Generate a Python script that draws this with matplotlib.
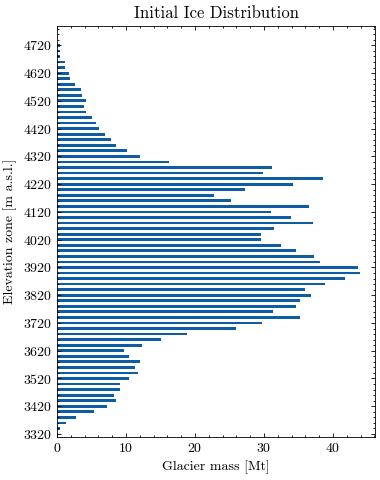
import numpy as np
import matplotlib
matplotlib.use("Agg")
import matplotlib.pyplot as plt
from matplotlib.ticker import MultipleLocator

# elevation zones (m a.s.l.), 20 m bands
elevation = np.arange(3320, 4781, 20)

# glacier mass per zone [Mt], bottom to top
mass = [
    0.1, 0.4, 1.3, 2.7, 5.3, 7.2, 8.6, 8.2, 9.1, 9.1,       # 3320-3500
    10.4, 11.7, 11.3, 12.0, 10.5, 9.7, 12.3, 15.0, 18.8, 25.9,  # 3520-3700
    29.7, 35.2, 31.3, 34.6, 35.2, 36.8, 35.9, 38.9, 41.8, 43.9,  # 3720-3900
    43.6, 38.1, 37.3, 34.7, 32.4, 29.5, 29.5, 31.4, 37.1, 33.9,  # 3920-4100
    31.0, 36.5, 25.2, 22.7, 27.3, 34.2, 38.6, 29.8, 31.1, 16.3,  # 4120-4300
    12.1, 10.2, 8.6, 7.8, 6.9, 6.1, 5.7, 5.1, 4.2, 3.9,       # 4320-4500
    4.2, 3.6, 3.5, 2.6, 1.9, 1.7, 1.2, 1.2, 0.5, 0.4,         # 4520-4700
    0.4, 0.0, 0.0, 0.0,                                       # 4720-4780
]

plt.rcParams["font.family"] = "serif"
plt.rcParams["font.serif"] = ["cmr10"]
plt.rcParams["mathtext.fontset"] = "cm"
plt.rcParams["axes.formatter.use_mathtext"] = True
plt.rcParams["axes.linewidth"] = 0.6
for ax_name in ("xtick", "ytick"):
    plt.rcParams[f"{ax_name}.direction"] = "in"
    plt.rcParams[f"{ax_name}.major.size"] = 3
    plt.rcParams[f"{ax_name}.minor.size"] = 1.5
    plt.rcParams[f"{ax_name}.major.width"] = 0.6
    plt.rcParams[f"{ax_name}.minor.width"] = 0.6
    plt.rcParams[f"{ax_name}.minor.visible"] = True
    plt.rcParams[f"{ax_name}.labelsize"] = 10
plt.rcParams["xtick.top"] = True
plt.rcParams["ytick.right"] = True

fig = plt.figure(figsize=(3.8, 4.8), dpi=100)
ax = fig.add_axes([0.15, 0.09, 0.837, 0.856])

ax.barh(elevation, mass, height=10, color="#0C5DA5")

ax.set_ylim(elevation[0] - 10, elevation[-1] + 10)
ax.set_yticks(elevation[::5])
ax.yaxis.set_minor_locator(MultipleLocator(20))
ax.xaxis.set_major_locator(MultipleLocator(10))
ax.xaxis.set_minor_locator(MultipleLocator(2))
ax.set_xlim(0, max(mass) * 1.05)

ax.set_xlabel("Glacier mass [Mt]", fontsize=10)
ax.set_ylabel("Elevation zone [m a.s.l.]", fontsize=10)
ax.set_title("Initial Ice Distribution", fontsize=12)

fig.savefig("out.png", dpi=100)
